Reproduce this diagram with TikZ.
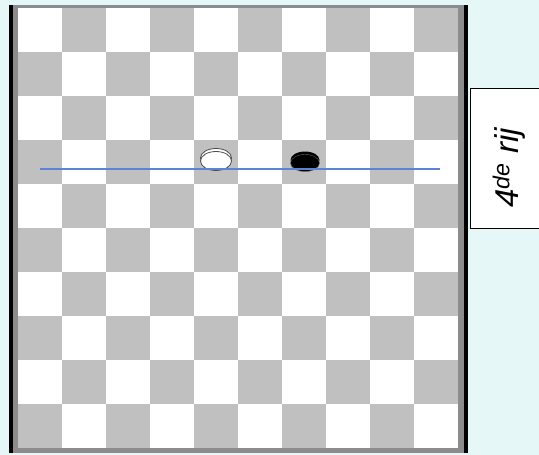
\documentclass[tikz,border=0pt]{standalone}
\usepackage{fontspec}
\setmainfont{Liberation Sans}
\usetikzlibrary{shapes.geometric}
\definecolor{bgc}{HTML}{E6F7F8}
\definecolor{sqgray}{HTML}{C0C0C0}
\definecolor{rowblue}{HTML}{5B84D4}
\begin{document}
\begin{tikzpicture}[x=1pt,y=-1pt,
  piece/.style={ellipse,minimum width=31pt,minimum height=19pt,inner sep=0pt},
  labelbox/.style={draw=black,line width=1pt,fill=white}]
\useasboundingbox (0,0) rectangle (539,455);
\fill[bgc] (0,0) rectangle (539,455);
\begin{scope}
\clip (0,0) rectangle (539,455);
% board frame
\fill[black!45] (9,5) rectangle (468,453);
\fill[black] (9,5) rectangle (13,453);
\fill[black] (464,5) rectangle (468,453);
\fill[white] (18,8) rectangle (458,448);
\foreach \r in {0,...,9}{
  \foreach \c in {0,...,9}{
    \pgfmathtruncatemacro{\pty}{mod(\r+\c,2)}
    \ifnum\pty=1
      \fill[sqgray] (18+44*\c,8+44*\r) rectangle ++(44,44);
    \fi
  }
}
% label box
\node[labelbox,minimum width=80pt,minimum height=140pt,anchor=north west,inner sep=0pt] (lab) at (470,88) {};
\node[rotate=90,font=\itshape\fontsize{33}{36}\selectfont] (txt) at (509,168) {4\textsuperscript{de} rij};
\end{scope}
% pieces
\node[piece,draw=black!70,fill=white,line width=0.8pt,yshift=3pt] (wb) at (216,161) {};
\node[piece,draw=black!70,fill=white,line width=0.8pt] (w) at (216,161) {};
\node[piece,fill=black,minimum width=29pt,minimum height=17pt,yshift=3pt] (bb) at (305,163) {};
\node[piece,fill=black,draw=black!60,line width=0.4pt,minimum width=29pt,minimum height=17pt] (b) at (305,163) {};
% row line
\coordinate (l1) at (40,169);
\coordinate (l2) at (440,169);
\draw[draw=rowblue,line width=1.2pt] (l1) -- (l2);
\end{tikzpicture}
\end{document}
